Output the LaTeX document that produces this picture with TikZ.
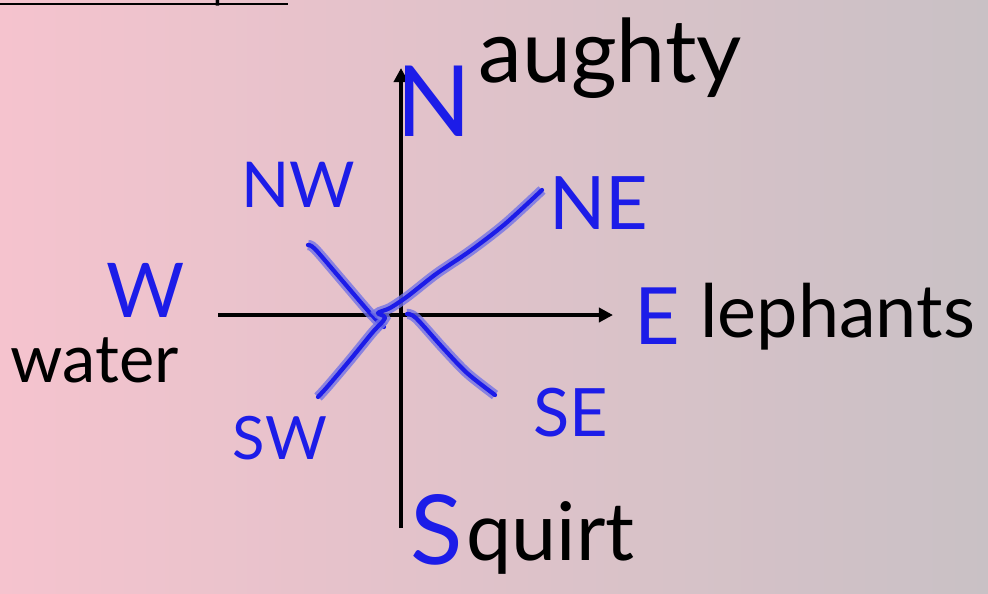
\documentclass[tikz,border=0pt]{standalone}
\usepackage{fontspec}
\setmainfont{Lato}
\usetikzlibrary{arrows.meta,positioning,calc}
\definecolor{bgleft}{RGB}{245,195,206}
\definecolor{bgright}{RGB}{201,193,197}
\definecolor{penblue}{RGB}{28,28,232}
\definecolor{haloblue}{RGB}{115,115,230}

\begin{document}
\begin{tikzpicture}[x=0.02cm,y=-0.02cm,>={Triangle[length=8pt,width=8pt]},
 axis/.style={line width=2.6pt,black},
 pen/.style={draw=penblue,line width=2.4pt,line cap=round,line join=round,
   preaction={draw=haloblue,opacity=0.8,line width=5.8pt}},
 bl/.style={text=penblue,inner sep=0pt},
 bk/.style={text=black,inner sep=0pt,anchor=base west}]
\useasboundingbox (0,0) rectangle (988,593);
\shade[left color=bgleft,right color=bgright] (0,0) rectangle (988,593);
% title, mostly above the page
\node[bk,font=\fontsize{22}{22}\selectfont] (title) at (0,-1) {e of the compass};
\draw[line width=1.6pt] ($(title.base west)+(0,5)$) -- ($(title.base east)+(0,5)$);
% axes
\coordinate (top) at (401,68);
\coordinate (bottom) at (401,528);
\coordinate (left) at (218,315);
\coordinate (right) at (613,315);
\draw[axis,->] (bottom) -- (top);
\draw[axis,->] (left) -- (right);
% diagonals
\draw[pen] plot[smooth,tension=0.5] coordinates {(308,245) (315,249) (340,278) (370,313) (384,327)};
\draw[pen] plot[smooth,tension=0.5] coordinates {(407,314) (416,318) (443,348) (467,373) (495,395)};
\draw[pen] plot[smooth,tension=0.5] coordinates {(318,397) (328,386) (350,360) (372,333) (385,318) (378,313) (390,308) (408,296) (436,274) (470,251) (505,224) (542,190)};
% capitals
\node[bl,font=\fontsize{56}{56}\selectfont] (N) at (434,101) {N};
\node[bl,font=\fontsize{55}{55}\selectfont] (S) at (437,530) {S};
\node[bl,font=\fontsize{45}{45}\selectfont] (E) at (657,316) {E};
\node[bl,font=\fontsize{43}{43}\selectfont] (W) at (146,290) {W};
\node[bl,font=\fontsize{36}{36}\selectfont] (NW) at (298,185) {NW};
\node[bl,font=\fontsize{42}{42}\selectfont] (NE) at (599,203) {NE};
\node[bl,font=\fontsize{38}{38}\selectfont] (SE) at (571,413) {SE};
\node[bl,font=\fontsize{34}{34}\selectfont] (SW) at (280,438) {SW};
% words
\node[bk,font=\fontsize{50}{50}\selectfont] (naughty) at (478,82) {aughty};
\node[bk,font=\fontsize{42}{42}\selectfont] (eleph) at (700,337) {lephants};
\node[bk,font=\fontsize{46}{46}\selectfont] (squirt) at (466,560) {quirt};
\node[bk,font=\fontsize{38}{38}\selectfont] (water) at (10,382) {water};
\end{tikzpicture}
\end{document}
